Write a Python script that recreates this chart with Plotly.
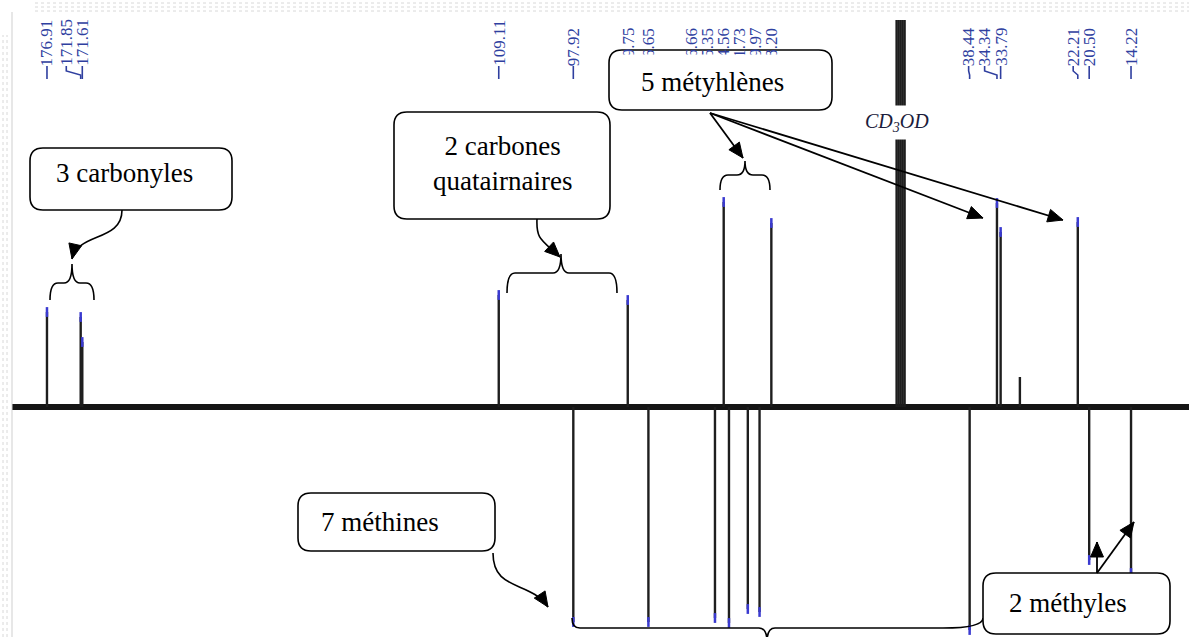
import plotly.graph_objects as go

W, H = 1189, 637

# ---- data: DEPT-135 13C spectrum (ppm, arbitrary intensity; + up, - down) ----
carbonyl_ppm = [176.91, 171.85, 171.61]
carbonyl_int = [95, 90, 65]
quaternary_ppm = [109.11, 89.75]
quaternary_int = [112, 107]
methine_ppm = [97.92, 86.65, 76.66, 74.56, 71.73, 69.97, 38.44]
methine_int = [-215, -215, -211, -216, -202, -205, -223]
methylene_ppm = [75.35, 68.20, 34.34, 33.79, 22.21]
methylene_int = [205, 184, 204, 175, 185]
methyl_ppm = [20.50, 14.22]
methyl_int = [-153, -166]
impurity_ppm = [30.9]
impurity_int = [30]
solvent_ppm = [49.4, 49.1, 48.8, 48.5, 48.2]
solvent_int = [387, 387, 387, 387, 387]
label_ppm = [176.91, 171.85, 171.61, 109.11, 97.92, 89.75, 86.65, 76.66, 75.35,
             74.56, 71.73, 69.97, 68.20, 38.44, 34.34, 33.79, 22.21, 20.50, 14.22]

X_RANGE = [183.96, 5.52]
Y_RANGE = [-230, 407]

PEAK = "#1e1e1e"
TIP = "#3a3ad0"
BLUE = "#2f3f9f"
SERIF = "Liberation Serif, Times New Roman, serif"


def px_of_ppm(p):
    return (X_RANGE[0] - p) * W / (X_RANGE[0] - X_RANGE[1])


def P(px, py):
    return f"{px / W:.5f},{1 - py / H:.5f}"


fig = go.Figure()

# baseline
fig.add_trace(go.Scatter(x=[X_RANGE[0] - 12 * (X_RANGE[0] - X_RANGE[1]) / W, X_RANGE[1]], y=[0, 0],
                         mode="lines", line=dict(color="#151515", width=6), hoverinfo="skip"))


def stick_trace(ppm, inten, tips=True):
    xs, ys = [], []
    for p, v in zip(ppm, inten):
        xs += [p, p, None]
        ys += [0, v, None]
    fig.add_trace(go.Scatter(x=xs, y=ys, mode="lines", line=dict(color=PEAK, width=2.4),
                             hoverinfo="skip"))
    if tips:
        fig.add_trace(go.Scatter(x=ppm, y=inten, mode="markers",
                                 marker=dict(symbol="line-ns", size=7,
                                             line=dict(color=TIP, width=2.5)),
                                 hoverinfo="skip"))


stick_trace(carbonyl_ppm, carbonyl_int)
stick_trace(quaternary_ppm, quaternary_int)
stick_trace(methine_ppm, methine_int)
stick_trace(methylene_ppm, methylene_int)
stick_trace(methyl_ppm, methyl_int)
stick_trace(impurity_ppm, impurity_int, tips=False)
stick_trace(solvent_ppm, solvent_int, tips=False)

shapes = []
annotations = []

# frame hints (light dotted border of the scanned picture)
shapes.append(dict(type="line", xref="paper", yref="paper", x0=12 / W, x1=12 / W, y0=0, y1=1 - 12 / H,
                   line=dict(color="#cfcfcf", width=1)))
for yy in (3, 7, 11):
    shapes.append(dict(type="line", xref="paper", yref="paper", x0=35 / W, x1=1, y0=1 - yy / H, y1=1 - yy / H,
                       line=dict(color="#d8d8d8", width=1, dash="dot")))
for xx in (3, 7):
    shapes.append(dict(type="line", xref="paper", yref="paper", x0=xx / W, x1=xx / W, y0=0, y1=1 - 35 / H,
                       line=dict(color="#d8d8d8", width=1, dash="dot")))

# ---- peak labels spread like NMR software ----
lab_sorted = sorted(label_ppm, reverse=True)
peak_px = [px_of_ppm(p) for p in lab_sorted]
GAP = 16
groups = [[i] for i in range(len(peak_px))]


def gpos(g):
    last = peak_px[g[-1]]
    n = len(g)
    return [last - GAP * (n - 1 - k) for k in range(n)]


changed = True
while changed:
    changed = False
    for i in range(len(groups) - 1):
        a, b = gpos(groups[i]), gpos(groups[i + 1])
        if b[0] - a[-1] < GAP:
            groups[i] = groups[i] + groups[i + 1]
            del groups[i + 1]
            changed = True
            break
label_px = []
for g in groups:
    label_px += gpos(g)

for p, lx, kx in zip(lab_sorted, label_px, peak_px):
    annotations.append(dict(x=lx / W, y=1 - 67 / H, xref="paper", yref="paper", text=f"{p:.2f}",
                            textangle=-90, showarrow=False, xanchor="center", yanchor="bottom",
                            borderpad=0,
                            font=dict(family=SERIF, size=17, color=BLUE)))
    shapes.append(dict(type="path", xref="paper", yref="paper",
                       path=f"M {P(lx, 66)} L {P(lx, 71)} L {P(kx, 75)} L {P(kx, 79)}",
                       line=dict(color=BLUE, width=1.6)))


# ---- decoration helpers ----
def rbox(x0, y0, x1, y1, r=13):
    path = (f"M {P(x0 + r, y0)} L {P(x1 - r, y0)} Q {P(x1, y0)} {P(x1, y0 + r)} "
            f"L {P(x1, y1 - r)} Q {P(x1, y1)} {P(x1 - r, y1)} L {P(x0 + r, y1)} "
            f"Q {P(x0, y1)} {P(x0, y1 - r)} L {P(x0, y0 + r)} Q {P(x0, y0)} {P(x0 + r, y0)} Z")
    shapes.append(dict(type="path", xref="paper", yref="paper", path=path, layer="above",
                       fillcolor="white", line=dict(color="black", width=1.6)))


def brace(x0, x1, xm, yend, ybar, ytip, r=8, r2=None):
    r2 = r if r2 is None else r2
    path = (f"M {P(x0, yend)} Q {P(x0, ybar)} {P(x0 + r, ybar)} L {P(xm - 8, ybar)} "
            f"Q {P(xm, ybar)} {P(xm, ytip)} Q {P(xm, ybar)} {P(xm + 8, ybar)} "
            f"L {P(x1 - r2, ybar)} Q {P(x1, ybar)} {P(x1, yend)}")
    shapes.append(dict(type="path", xref="paper", yref="paper", path=path, layer="above",
                       line=dict(color="black", width=1.6)))


def head(tx, ty, dx, dy, L=15, w=6.5):
    n = (dx * dx + dy * dy) ** 0.5
    ux, uy = dx / n, dy / n
    bx, by = tx - L * ux, ty - L * uy
    path = f"M {P(tx, ty)} L {P(bx - w * uy, by + w * ux)} L {P(bx + w * uy, by - w * ux)} Z"
    shapes.append(dict(type="path", xref="paper", yref="paper", path=path, layer="above",
                       fillcolor="black", line=dict(color="black", width=1)))


def curve_arrow(p0, c1, c2, p1, arrow=True):
    path = f"M {P(*p0)} C {P(*c1)} {P(*c2)} {P(*p1)}"
    shapes.append(dict(type="path", xref="paper", yref="paper", path=path, layer="above",
                       line=dict(color="black", width=1.6)))
    if arrow:
        head(p1[0], p1[1], p1[0] - c2[0], p1[1] - c2[1])


def line_arrow(p0, p1):
    shapes.append(dict(type="line", xref="paper", yref="paper", x0=p0[0] / W, y0=1 - p0[1] / H,
                       x1=p1[0] / W, y1=1 - p1[1] / H, layer="above",
                       line=dict(color="black", width=1.8)))
    head(p1[0], p1[1], p1[0] - p0[0], p1[1] - p0[1])


def text(px, py, t, size=27):
    annotations.append(dict(x=px / W, y=1 - py / H, xref="paper", yref="paper", text=t,
                            showarrow=False, xanchor="center", yanchor="middle",
                            font=dict(family=SERIF, size=size, color="black")))


# 3 carbonyles
rbox(30, 148, 232, 210)
text(124, 173, "3 carbonyles")
curve_arrow((122, 210), (122, 242), (78, 232), (72, 259))
brace(50, 94, 72, 300, 283, 264)

# 2 carbones quaternaires
rbox(394, 112, 610, 219)
text(502, 163, "2 carbones<br>quatairnaires")
curve_arrow((537, 219), (536, 240), (542, 240), (560, 257))
brace(507, 617, 561, 293, 273, 254)

# 5 méthylènes
rbox(609, 50, 832, 110)
annotations.append(dict(x=720.5 / W, y=1 - 80 / H, xref="paper", yref="paper", text="&#8203;",
                        showarrow=False, bgcolor="white", width=214, height=50, borderpad=0,
                        xanchor="center", yanchor="middle"))
text(712, 82, "5 métyhlènes")
brace(720, 770, 745, 190, 175, 161)
line_arrow((710, 113), (743, 158))
line_arrow((710, 113), (983, 218))
line_arrow((710, 113), (1063, 220))

# 7 méthines
rbox(298, 493, 495, 551)
text(380, 522, "7 méthines")
curve_arrow((493, 553), (493, 592), (530, 580), (548, 607))
brace(572, 983, 767, 618, 628, 642, r=8, r2=40)

# 2 méthyles
rbox(983, 573, 1170, 634)
text(1068, 603, "2 méthyles")
line_arrow((1097, 573), (1097, 542))
line_arrow((1097, 573), (1134, 522))

# solvent label
annotations.append(dict(x=897 / W, y=1 - 122 / H, xref="paper", yref="paper",
                        text="<i>CD<sub>3</sub>OD</i>", showarrow=False, bgcolor="white",
                        borderpad=4, xanchor="center", yanchor="middle",
                        font=dict(family=SERIF, size=20, color="#1c1c3c")))

fig.update_layout(
    width=W, height=H, margin=dict(l=0, r=0, t=0, b=0),
    paper_bgcolor="white", plot_bgcolor="white", showlegend=False,
    xaxis=dict(range=X_RANGE, visible=False, showgrid=False, zeroline=False),
    yaxis=dict(range=Y_RANGE, visible=False, showgrid=False, zeroline=False),
    shapes=shapes, annotations=annotations,
)

fig.write_html("out.html", config={"displayModeBar": False},
               post_script="document.body.style.margin='0';")
